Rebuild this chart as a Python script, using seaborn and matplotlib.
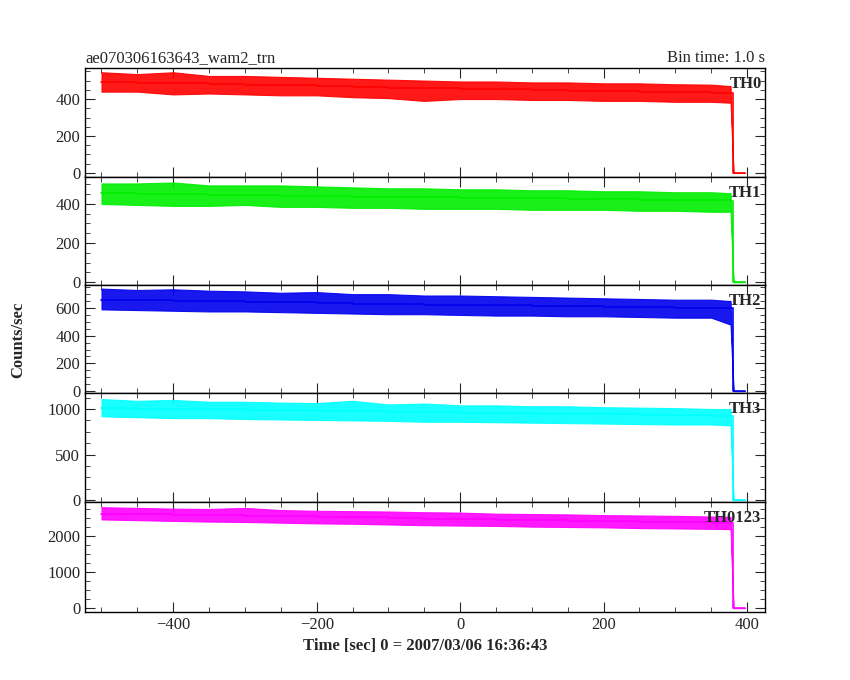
import matplotlib
matplotlib.use("Agg")
import matplotlib.pyplot as plt
import seaborn as sns
import pandas as pd
from matplotlib.ticker import AutoMinorLocator, MultipleLocator

sns.set_style("white")
plt.rcParams['font.family'] = ['Liberation Serif', 'DejaVu Serif']

times = [-500, -450, -400, -350, -300, -250, -200, -150, -100, -50, 0, 50, 100, 150, 200, 250, 300, 350, 377, 381, 397]
names = ["TH0", "TH1", "TH2", "TH3", "TH0123"]
colors = ["#ff0000", "#00ee00", "#0000ee", "#00ffff", "#ff00ff"]
means = [
    [492, 488, 485, 480, 478, 474, 470, 466, 462, 458, 455, 452, 448, 446, 442, 440, 437, 434, 432, 0, 0],
    [455, 452, 450, 447, 445, 443, 440, 438, 436, 434, 432, 430, 428, 426, 424, 422, 420, 418, 416, 0, 0],
    [660, 655, 650, 647, 643, 640, 636, 632, 628, 625, 622, 618, 615, 612, 608, 605, 602, 600, 598, 0, 0],
    [1010, 1005, 1000, 995, 990, 985, 980, 975, 970, 965, 960, 955, 950, 945, 940, 935, 930, 925, 920, 0, 0],
    [2620, 2605, 2590, 2575, 2560, 2545, 2530, 2515, 2500, 2485, 2470, 2455, 2440, 2425, 2410, 2395, 2380, 2365, 2355, 0, 0],
]
uppers = [
    [545, 535, 545, 525, 525, 520, 515, 510, 505, 500, 495, 495, 490, 490, 485, 485, 480, 478, 470, 0, 0],
    [505, 505, 510, 495, 495, 495, 490, 485, 480, 480, 475, 475, 470, 470, 465, 465, 460, 460, 455, 0, 0],
    [740, 730, 735, 725, 720, 710, 715, 700, 700, 690, 690, 685, 680, 675, 670, 665, 660, 660, 650, 0, 0],
    [1110, 1090, 1100, 1080, 1080, 1070, 1065, 1090, 1050, 1060, 1040, 1040, 1030, 1030, 1020, 1015, 1010, 1000, 1000, 0, 0],
    [2800, 2780, 2760, 2750, 2780, 2720, 2700, 2690, 2680, 2660, 2650, 2620, 2610, 2600, 2580, 2570, 2560, 2540, 2530, 0, 0],
]
lowers = [
    [440, 440, 425, 430, 425, 420, 420, 410, 405, 390, 400, 400, 395, 395, 390, 390, 385, 385, 380, 0, 0],
    [400, 395, 390, 390, 395, 385, 385, 380, 380, 375, 375, 375, 370, 370, 370, 365, 365, 360, 360, 0, 0],
    [590, 585, 580, 575, 575, 570, 565, 560, 555, 555, 550, 545, 545, 540, 540, 535, 530, 530, 480, 0, 0],
    [920, 910, 900, 900, 890, 885, 880, 875, 870, 860, 860, 855, 850, 845, 840, 835, 830, 830, 820, 0, 0],
    [2460, 2440, 2420, 2400, 2390, 2370, 2350, 2340, 2320, 2300, 2290, 2280, 2260, 2250, 2240, 2220, 2210, 2200, 2190, 0, 0],
]
ylims = [(-22, 568), (-15, 538), (-14, 766), (-22, 1176), (-110, 2944)]
majors = [200, 200, 200, 500, 1000]

fig = plt.figure(figsize=(8.5, 6.8), dpi=100)
W, H = 850, 680
edges = [68, 177, 285, 393, 502, 612]
axes = []
for i in range(5):
    ax = fig.add_axes([85 / W, 1 - edges[i + 1] / H, 680 / W, (edges[i + 1] - edges[i]) / H])
    axes.append(ax)
    df = pd.DataFrame({"t": times, "m": means[i], "u": uppers[i], "l": lowers[i]})
    ax.fill_between(df["t"], df["l"], df["u"], color=colors[i], lw=0.8, alpha=0.9)
    sns.lineplot(data=df, x="t", y="m", ax=ax, color=colors[i], lw=1.2, drawstyle="steps-post")
    ax.set_xlim(-523, 425)
    ax.set_ylim(*ylims[i])
    ax.yaxis.set_major_locator(MultipleLocator(majors[i]))
    ax.xaxis.set_major_locator(MultipleLocator(200))
    ax.xaxis.set_minor_locator(AutoMinorLocator(4))
    ax.yaxis.set_minor_locator(AutoMinorLocator(4))
    ax.tick_params(which="both", direction="in", top=True, right=True, bottom=True, left=True, labelsize=12)
    ax.tick_params(which="major", length=7)
    ax.tick_params(which="minor", length=3.5)
    for s in ax.spines.values():
        s.set_color("black"); s.set_linewidth(1)
    ax.set_xlabel(""); ax.set_ylabel("")
    if i < 4:
        ax.tick_params(labelbottom=False)
    ax.text(0.995, 0.93, names[i], transform=ax.transAxes, ha="right", va="top", fontsize=12, fontweight="bold")

axes[0].set_title("ae070306163643_wam2_trn", loc="left", fontsize=12, pad=4)
axes[0].set_title("Bin time: 1.0 s", loc="right", fontsize=12, pad=4)
axes[4].set_xlabel("Time [sec] 0 = 2007/03/06 16:36:43", fontsize=12, fontweight="bold")
fig.text(18 / W, 0.5, "Counts/sec", rotation=90, va="center", ha="center", fontsize=12, fontweight="bold")
fig.savefig("out.png", dpi=100)
